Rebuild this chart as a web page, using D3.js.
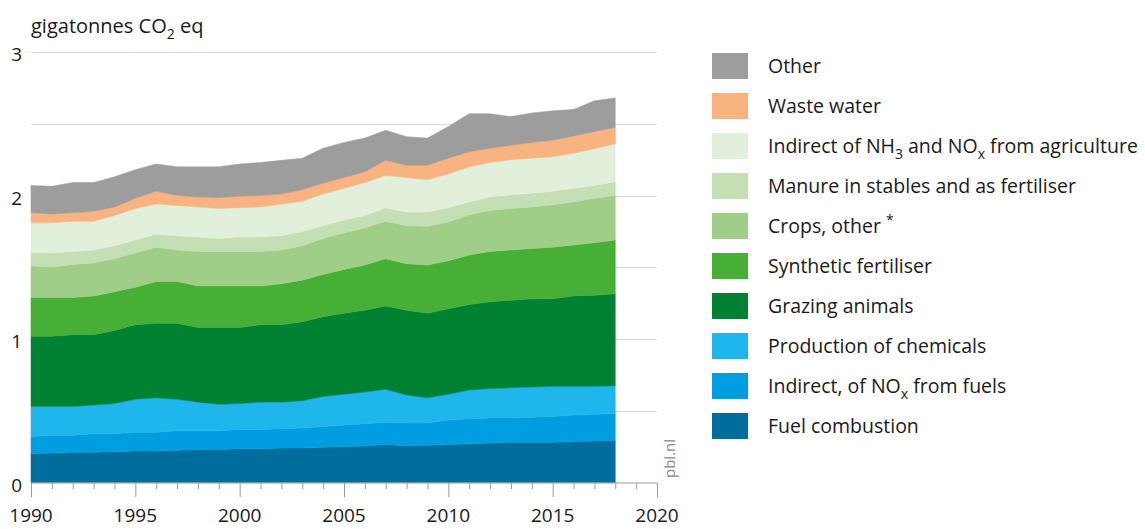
<!DOCTYPE html>
<html lang="en">
<head>
    <meta charset="UTF-8">
    <title>Greenhouse gas emissions</title>
    <script src="https://d3js.org/d3.v7.min.js"></script>
    <style>
        body { margin: 0; background: #fff; }
        text {
            font-family: "Open Sans", "Noto Sans", sans-serif;
            fill: #1a1a1a;
        }
        .grid line { stroke: #dcdcdc; stroke-width: 1px; }
        .x-axis path, .x-axis line { stroke: #9a9a9a; }
    </style>
</head>
<body>
    <svg id="chart" width="1145" height="529"></svg>

    <script>
        var years = d3.range(1990, 2019);

        // values per year, gigatonnes CO2 eq
        var fuelCombustion = [0.20, 0.205, 0.21, 0.21, 0.215, 0.22, 0.22, 0.225, 0.23, 0.23,
            0.235, 0.235, 0.24, 0.24, 0.245, 0.25, 0.255, 0.265, 0.255, 0.26,
            0.265, 0.27, 0.275, 0.28, 0.28, 0.28, 0.285, 0.29, 0.29];
        var indirectFuels = [0.12, 0.125, 0.12, 0.13, 0.125, 0.13, 0.13, 0.135, 0.13, 0.13,
            0.135, 0.135, 0.135, 0.14, 0.145, 0.15, 0.155, 0.155, 0.16, 0.155,
            0.17, 0.175, 0.175, 0.17, 0.175, 0.18, 0.185, 0.185, 0.19];
        var chemicals = [0.21, 0.20, 0.20, 0.20, 0.21, 0.23, 0.24, 0.22, 0.20, 0.185,
            0.18, 0.19, 0.185, 0.19, 0.21, 0.215, 0.22, 0.23, 0.195, 0.175,
            0.18, 0.20, 0.205, 0.21, 0.21, 0.21, 0.20, 0.195, 0.195];
        var grazing = [0.49, 0.49, 0.50, 0.49, 0.51, 0.52, 0.52, 0.53, 0.52, 0.535,
            0.53, 0.54, 0.54, 0.55, 0.555, 0.565, 0.57, 0.58, 0.59, 0.59,
            0.595, 0.595, 0.605, 0.61, 0.615, 0.61, 0.63, 0.635, 0.64];
        var synthetic = [0.27, 0.27, 0.26, 0.27, 0.27, 0.26, 0.29, 0.29, 0.29, 0.29,
            0.29, 0.27, 0.285, 0.29, 0.295, 0.305, 0.315, 0.33, 0.325, 0.335,
            0.335, 0.345, 0.35, 0.35, 0.35, 0.36, 0.355, 0.365, 0.375];
        var crops = [0.22, 0.21, 0.23, 0.23, 0.23, 0.24, 0.24, 0.22, 0.24, 0.24,
            0.24, 0.24, 0.235, 0.24, 0.25, 0.255, 0.26, 0.26, 0.265, 0.27,
            0.27, 0.28, 0.285, 0.29, 0.29, 0.295, 0.30, 0.31, 0.31];
        var manure = [0.09, 0.10, 0.09, 0.09, 0.09, 0.09, 0.09, 0.10, 0.10, 0.09,
            0.10, 0.10, 0.10, 0.10, 0.09, 0.09, 0.085, 0.095, 0.095, 0.10,
            0.10, 0.09, 0.095, 0.095, 0.095, 0.095, 0.095, 0.09, 0.095];
        var indirectAgri = [0.21, 0.21, 0.21, 0.20, 0.21, 0.22, 0.21, 0.21, 0.21, 0.21,
            0.205, 0.21, 0.22, 0.21, 0.22, 0.22, 0.23, 0.225, 0.24, 0.225,
            0.235, 0.245, 0.24, 0.245, 0.245, 0.24, 0.245, 0.255, 0.265];
        var wasteWater = [0.07, 0.06, 0.06, 0.07, 0.06, 0.07, 0.09, 0.07, 0.07, 0.075,
            0.08, 0.08, 0.07, 0.08, 0.075, 0.075, 0.075, 0.105, 0.085, 0.10,
            0.11, 0.105, 0.10, 0.10, 0.11, 0.115, 0.12, 0.12, 0.115];
        var other = [0.19, 0.195, 0.21, 0.20, 0.21, 0.20, 0.19, 0.20, 0.21, 0.215,
            0.225, 0.23, 0.235, 0.22, 0.245, 0.245, 0.235, 0.21, 0.20, 0.19,
            0.22, 0.265, 0.24, 0.20, 0.205, 0.205, 0.185, 0.215, 0.205];

        var seriesKeys = ["fuel", "indFuels", "chem", "grazing", "synth", "crops", "manure", "indAgri", "waste", "other"];
        var seriesValues = [fuelCombustion, indirectFuels, chemicals, grazing, synthetic, crops, manure, indirectAgri, wasteWater, other];
        var seriesColors = ["#006e9c", "#009ee0", "#1fb6ec", "#008232", "#47ae36", "#a0cd87", "#c3dfb3", "#e2efdb", "#f8b380", "#9d9d9d"];

        // legend labels, top to bottom; parts with sub/sup
        var legendLabels = [
            [["Other"]],
            [["Waste water"]],
            [["Indirect of NH"], ["3", "sub"], [" and NO"], ["x", "sub"], [" from agriculture"]],
            [["Manure in stables and as fertiliser"]],
            [["Crops, other "], ["*", "sup"]],
            [["Synthetic fertiliser"]],
            [["Grazing animals"]],
            [["Production of chemicals"]],
            [["Indirect, of NO"], ["x", "sub"], [" from fuels"]],
            [["Fuel combustion"]]
        ];

        var yTicks = [0, 1, 2, 3];
        var gridValues = [0.5, 1, 1.5, 2, 2.5, 3];
        var xTicks = [1990, 1995, 2000, 2005, 2010, 2015, 2020];

        var table = years.map(function(yr, i) {
            var row = {year: yr};
            seriesKeys.forEach(function(k, j) { row[k] = seriesValues[j][i]; });
            return row;
        });

        var svg = d3.select("#chart");

        var x = d3.scaleLinear().domain([1990, 2020]).range([31, 657]);
        var y = d3.scaleLinear().domain([0, 3]).range([482.5, 52]);

        // gridlines
        svg.append("g")
            .attr("class", "grid")
            .selectAll("line")
            .data(gridValues)
            .join("line")
            .attr("x1", x(1990))
            .attr("x2", x(2020))
            .attr("y1", d => Math.round(y(d)) + 0.5)
            .attr("y2", d => Math.round(y(d)) + 0.5);

        var stack = d3.stack().keys(seriesKeys);
        var layers = stack(table);

        var area = d3.area()
            .x(d => x(d.data.year))
            .y0(d => y(d[0]))
            .y1(d => y(d[1]));

        svg.append("g")
            .selectAll("path")
            .data(layers)
            .join("path")
            .attr("fill", (d, i) => seriesColors[i])
            .attr("stroke", (d, i) => seriesColors[i])
            .attr("stroke-width", 0.5)
            .attr("d", area);

        // x axis: minor ticks every year, major every 5
        var xAxis = svg.append("g")
            .attr("class", "x-axis")
            .attr("transform", "translate(0," + (y(0) + 0.5) + ")");

        xAxis.call(d3.axisBottom(x)
            .tickValues(d3.range(1990, 2021))
            .tickSize(6)
            .tickFormat(""));
        xAxis.select(".domain").attr("d", "M" + x(1990) + ",0H" + x(2020));
        xAxis.selectAll(".tick line")
            .attr("y2", d => d % 5 === 0 ? 14 : 6);

        svg.append("g")
            .selectAll("text")
            .data(xTicks)
            .join("text")
            .attr("x", d => x(d))
            .attr("y", 522)
            .attr("text-anchor", "middle")
            .style("font-size", "19px")
            .text(d => d);

        // y labels
        svg.append("g")
            .selectAll("text")
            .data(yTicks)
            .join("text")
            .attr("x", 22)
            .attr("y", d => y(d) + 9)
            .attr("text-anchor", "end")
            .style("font-size", "19px")
            .text(d => d);

        // unit label
        var unit = svg.append("text")
            .attr("x", 31)
            .attr("y", 33)
            .style("font-size", "20px");
        unit.append("tspan").text("gigatonnes CO");
        unit.append("tspan").attr("dy", 6).style("font-size", "14px").text("2");
        unit.append("tspan").attr("dy", -6).text(" eq");

        // source
        svg.append("text")
            .attr("transform", "translate(675,478) rotate(-90)")
            .style("font-size", "15px")
            .style("fill", "#8a8a8a")
            .text("pbl.nl");

        // legend
        var legendColors = seriesColors.slice().reverse();
        var legend = svg.append("g")
            .selectAll("g")
            .data(legendLabels)
            .join("g")
            .attr("transform", (d, i) => "translate(712," + (53 + i * 40) + ")");

        legend.append("rect")
            .attr("width", 36)
            .attr("height", 26)
            .attr("fill", (d, i) => legendColors[i]);

        legend.append("text")
            .attr("x", 56)
            .attr("y", 20)
            .style("font-size", "19.5px")
            .each(function(parts) {
                var t = d3.select(this);
                var shift = 0;
                parts.forEach(function(p) {
                    var target = 0;
                    if (p[1] === "sub") target = 6;
                    if (p[1] === "sup") target = -8;
                    var span = t.append("tspan").attr("dy", target - shift).text(p[0]);
                    if (p[1]) span.style("font-size", "14px");
                    shift = target;
                });
            });
    </script>
</body>
</html>
